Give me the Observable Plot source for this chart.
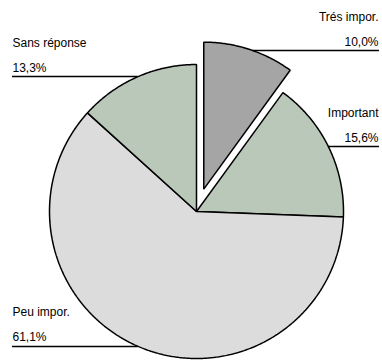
<!DOCTYPE html>
<html>
<head>
<meta charset="utf-8">
<script src="https://cdn.jsdelivr.net/npm/d3@7"></script>
<script src="https://cdn.jsdelivr.net/npm/@observablehq/plot@0.6"></script>
<style>
  body { margin: 0; background: #fff; }
  #chart svg { display: block; }
</style>
</head>
<body>
<div id="chart"></div>
<script>
// Survey answers, in drawing order (clockwise from 12 o'clock)
const categories = ["Trés impor.", "Important", "Peu impor.", "Sans réponse"];
const shares = [10.0, 15.6, 61.1, 13.3];
const explodedCategory = "Trés impor.";

// Slice fills
const sliceFills = ["#a5a5a5", "#b9c8b9", "url(#hatch)", "#b9c8b9"];

// Label placement: which side the leader line runs to, and its height (pie radii above centre)
const labelSide = ["right", "right", "left", "left"];
const labelLineY = [1.095, 0.442, -0.918, 0.918];

const W = 382, H = 363;
const R = 147, CX = 196, CY = 211;   // pie radius and centre, in pixels
const EXPLODE = 0.16;               // pull-out of the exploded slice, in radii
const OUTER_LEFT = -1.252, OUTER_RIGHT = 1.245;

const fmt = v => v.toFixed(1).replace(".", ",") + "%";

const arcs = d3.pie().sort(null).value(d => d)(shares);

// Polygon points for each slice: centre, then the arc sampled every half degree
const slicePoints = [];
const centres = [];
arcs.forEach((a, i) => {
  const mid = (a.startAngle + a.endAngle) / 2;
  const off = categories[i] === explodedCategory ? EXPLODE : 0;
  const ox = Math.sin(mid) * off, oy = Math.cos(mid) * off;
  centres.push([ox, oy]);
  slicePoints.push({cat: categories[i], x: ox, y: oy});
  const n = Math.max(2, Math.ceil((a.endAngle - a.startAngle) / (Math.PI / 360)));
  for (let k = 0; k <= n; k++) {
    const t = a.startAngle + (a.endAngle - a.startAngle) * k / n;
    slicePoints.push({cat: categories[i], x: ox + Math.sin(t), y: oy + Math.cos(t)});
  }
});

// Leader lines run from the pie edge out to the side of the chart
const labelRows = categories.map((c, i) => {
  const [ox, oy] = centres[i];
  const y = labelLineY[i];
  const dy = y - oy;
  const half = Math.sqrt(Math.max(0, 1 - dy * dy));
  const left = labelSide[i] === "left";
  return {
    name: c,
    value: fmt(shares[i]),
    y,
    edge: left ? ox - half : ox + half,
    outer: left ? OUTER_LEFT : OUTER_RIGHT,
    side: labelSide[i]
  };
});
const leftRows = labelRows.filter(d => d.side === "left");
const rightRows = labelRows.filter(d => d.side === "right");

const font = {fontSize: 12, fontFamily: "'Liberation Sans', Arial, sans-serif", fill: "#000"};

const chart = Plot.plot({
  width: W,
  height: H,
  margin: 0,
  style: {background: "#fff", overflow: "visible"},
  x: {domain: [-CX / R, (W - CX) / R], range: [0, W], axis: null},
  y: {domain: [(CY - H) / R, CY / R], range: [H, 0], axis: null},
  color: {type: "ordinal", domain: categories, range: sliceFills},
  marks: [
    Plot.line(slicePoints, {
      x: "x", y: "y", z: "cat", fill: "cat",
      stroke: "#000", strokeWidth: 1.5, strokeLinejoin: "miter",
      curve: "linear-closed"
    }),
    Plot.ruleY(labelRows, {y: "y", x1: "edge", x2: "outer", stroke: "#000", strokeWidth: 1.5}),
    Plot.text(leftRows, {x: "outer", y: "y", text: "value", textAnchor: "start", lineAnchor: "bottom", dy: -5, ...font}),
    Plot.text(leftRows, {x: "outer", y: "y", text: "name", textAnchor: "start", lineAnchor: "bottom", dy: -30, ...font}),
    Plot.text(rightRows, {x: "outer", y: "y", text: "value", textAnchor: "end", lineAnchor: "bottom", dx: -1, dy: -5, ...font}),
    Plot.text(rightRows, {x: "outer", y: "y", text: "name", textAnchor: "end", lineAnchor: "bottom", dx: -1, dy: -30, ...font})
  ]
});

// Fine vertical hatching for the large slice
const defs = d3.select(chart).insert("defs", ":first-child");
const pat = defs.append("pattern")
  .attr("id", "hatch")
  .attr("patternUnits", "userSpaceOnUse")
  .attr("width", 2).attr("height", 2);
pat.append("rect").attr("width", 2).attr("height", 2).attr("fill", "#e6e6e6");
pat.append("rect").attr("x", 1).attr("width", 1).attr("height", 2).attr("fill", "#d2d2d2");

document.getElementById("chart").appendChild(chart);
</script>
</body>
</html>
